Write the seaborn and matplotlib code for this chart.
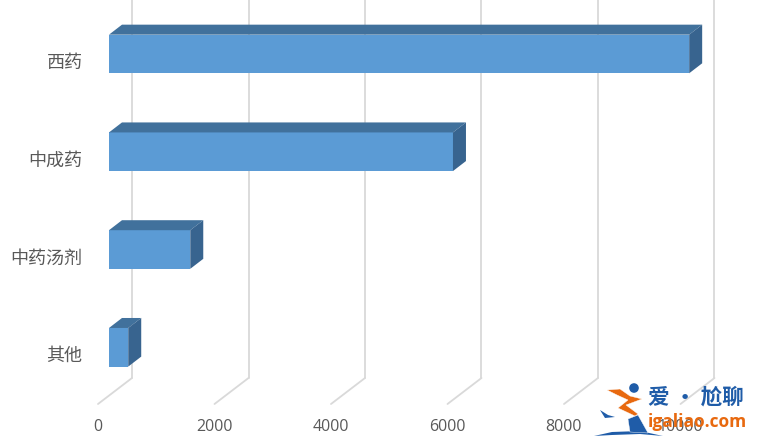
import matplotlib
matplotlib.use("Agg")
import matplotlib.pyplot as plt
from matplotlib.patches import Circle, Polygon
from matplotlib.transforms import ScaledTranslation, blended_transform_factory
import pandas as pd
import seaborn as sns

categories = ["西药", "中成药", "中药汤剂", "其他"]
values = [9960, 5905, 1395, 330]
x_ticks = [0, 2000, 4000, 6000, 8000, 10000]

W, H = 758, 448
sns.set_theme(style="white")
plt.rcParams["font.family"] = ["Noto Sans CJK SC", "DejaVu Sans"]

fig = plt.figure(figsize=(W / 100, H / 100), dpi=100)

# axes starts at value 0 of the front plane, floor at y=404
left, floor = 109, 404
ax = fig.add_axes([left / W, (H - floor) / H, (W - left) / W, floor / H])

df = pd.DataFrame({"cat": categories, "val": values})
sns.barplot(data=df, x="val", y="cat", color="#5b9bd5", saturation=1, width=0.395, linewidth=0, ax=ax, zorder=3)

px = 1 / 0.05825  # value units per pixel
ax.set_xlim(0, (W - left) * px)
ax.set_ylim(3.58, -0.552)
py = (3.58 + 0.552) / floor  # category units per pixel
ax.set_xlabel("")
ax.set_ylabel("")
sns.despine(ax=ax, left=True, bottom=True)

# back walls and floor lines
trans = blended_transform_factory(ax.transData, ax.transAxes)
for v in x_ticks:
    ax.plot([v + 23 * px, v + 23 * px], [26 / floor, 1], transform=trans,
            color="#d9d9d9", lw=1.3, zorder=1, clip_on=False)
    ax.plot([v - 11 * px, v + 23 * px], [0, 26 / floor], transform=trans,
            color="#d9d9d9", lw=1.3, zorder=1, clip_on=False)

# fake 3d depth on each bar
dx, dy = 13 * px, 10 * py
for bar in list(ax.patches):
    x1 = bar.get_width()
    y0 = bar.get_y()
    y1 = y0 + bar.get_height()
    y_top, y_bot = min(y0, y1), max(y0, y1)
    ax.add_patch(Polygon([(0, y_top), (dx, y_top - dy), (x1 + dx, y_top - dy), (x1, y_top)],
                         closed=True, fc="#41719c", ec="none", zorder=3))
    ax.add_patch(Polygon([(x1, y_top), (x1 + dx, y_top - dy), (x1 + dx, y_bot - dy), (x1, y_bot)],
                         closed=True, fc="#38648f", ec="none", zorder=3))

ax.set_xticks(x_ticks)
ax.set_xticklabels([str(v) for v in x_ticks], fontsize=11.5, color="#595959", family=["Open Sans", "DejaVu Sans"])
ax.tick_params(axis="x", length=0, pad=11)
ax.tick_params(axis="y", length=0, pad=27, labelsize=13, labelcolor="#595959")
shift_x = ScaledTranslation(-11 / 100, 0, fig.dpi_scale_trans)
for lab in ax.get_xticklabels():
    lab.set_transform(lab.get_transform() + shift_x)
# category labels sit level with the bars' lower part, and nearer than tick pad allows
shift_y = ScaledTranslation(11 / 100, -7 / 100, fig.dpi_scale_trans)
for lab in ax.get_yticklabels():
    lab.set_transform(lab.get_transform() + shift_y)

# watermark, in pixel coordinates
wm = fig.add_axes([0, 0, 1, 1], zorder=5)
wm.set_xlim(0, W)
wm.set_ylim(H, 0)
wm.axis("off")
wm.patch.set_alpha(0)
wm.add_patch(Polygon([(594, 436), (612, 432), (640, 431), (663, 436), (640, 434), (612, 435)], fc="#1f5ca8", ec="none"))
wm.add_patch(Polygon([(628, 419), (638, 415), (648, 433), (630, 432)], fc="#1f5ca8", ec="#ffffff", lw=0.3))
wm.add_patch(Polygon([(600, 410), (608, 415), (615, 417), (605, 418)], fc="#1f5ca8", ec="none"))
wm.add_patch(Polygon([(607, 390), (620, 389), (630, 396), (642, 399), (626, 405), (638, 414), (635, 416),
                      (618, 408), (628, 400), (617, 395)], fc="#e8690f", ec="#ffffff", lw=0.3))
wm.add_patch(Circle((634, 388), 4.8, fc="#1f5ca8", ec="none"))
wm.text(648, 397, "爱 · 尬聊", fontsize=15.5, color="#1f5ca8", fontweight="bold", va="center", ha="left")
wm.text(648, 422, "igaliao.com", fontsize=12.5, color="#e8690f", fontweight="bold", va="center", ha="left",
        family=["Open Sans", "DejaVu Sans"])

fig.savefig("out.png", dpi=100)
